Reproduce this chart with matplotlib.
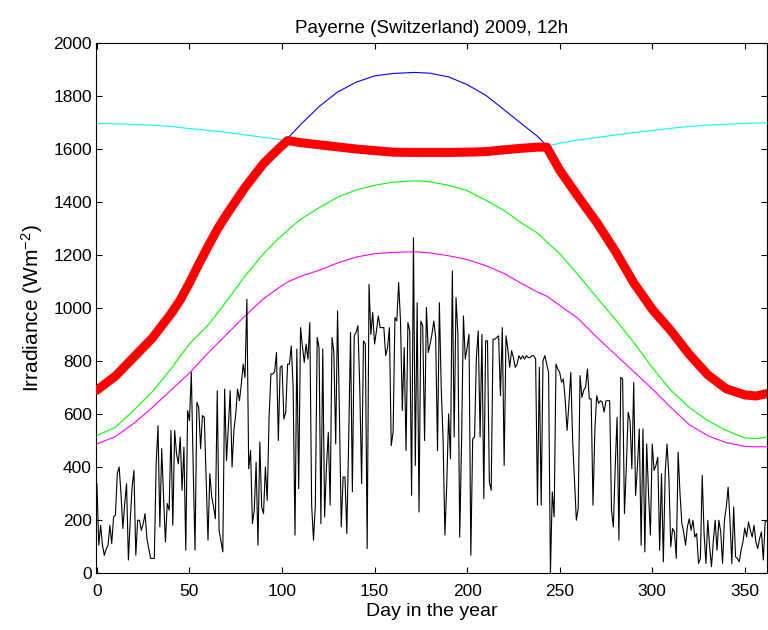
import matplotlib
matplotlib.use("Agg")
import matplotlib.pyplot as plt

plt.rcParams['font.family'] = ['Liberation Sans', 'DejaVu Sans']
plt.rcParams['mathtext.default'] = 'regular'

# ---- daily measured irradiance at 12h (black), days 0..364 ----
seg1 = [337,105,180,105,67,90,105,180,111,212,218,375,400,300,168,262,337,49,199,324,387,67,199,199,161,186,224,130,92,55,55,55,412,556,174,469,287,117,262,237,538,180,538,450,412,513,312,475,86,613,575,757,400,86,644,625,469,594,588,350,124]
seg2 = [375,287,250,205,688,161,120,80,694,425,550,688,400,538,600,694,650,713,788,738,1033,393,462,186,237,418,105,494,249,224,400,274,588,751,751,760,832,500,776,782,581,607,788,788,857,700,143,845,318,926,857,795,864,807,945,256,124,256,889,850]
seg3 = [186,845,212,400,531,256,889,832,487,989,600,174,362,362,149,500,908,306,895,908,933,700,337,876,864,92,1089,900,983,864,914,970,926,926,926,820,850,926,481,531,964,951,1096,951,613,851,462,945,914,293,1265,406,1020,230,951,933,500,1002,832,864,901,951,889,462]
seg4 = [1020,700,506,143,337,600,431,1140,513,1039,901,136,500,970,807,850,901,67,506,513,813,914,513,901,281,876,876,343,312,882,882,889,895,669,926,406,895,845,776,839,813,776,788,820,807,820,807,820,813,813,820,820,807,256,776,256,801,820,788,757,0]
seg5 = [306,212,788,770,757,720,732,650,538,640,757,500,350,199,243,745,663,690,701,770,657,657,256,538,669,640,650,644,607,650,650,650,237,174,400,588,124,738,732,224,400,607,575,393,719,293,400,544,105,544,80,487,300,143,487,387,406,437,86,375,42,380,487,362]
seg6 = [99,168,155,55,456,300,186,155,105,174,205,161,199,136,149,36,55,368,150,36,199,99,24,120,199,86,199,155,36,199,249,324,200,36,249,61,55,42,86,117,170,136,193,160,136,180,117,92,130,155,49,193,199,180,150]
measured = seg1 + seg2 + seg3 + seg4 + seg5 + seg6
measured_days = list(range(len(measured)))

# ---- smooth model curves, read at these days ----
curve_days = [0, 10, 20, 30, 40, 45, 50, 55, 60, 65, 70, 80, 90, 98, 103, 110, 120, 130, 140, 150, 160, 172, 180,
              190, 200, 210, 220, 230, 238, 243, 250, 260, 270, 280, 290, 300, 310, 320, 330, 340, 350, 356, 364]

red_vals = [690, 743, 815, 887, 978, 1030, 1095, 1165, 1232, 1296, 1352, 1455, 1545, 1600, 1632, 1624, 1616, 1608, 1600, 1594, 1588, 1587, 1587,
            1587, 1588, 1590, 1597, 1603, 1607, 1607, 1520, 1420, 1323, 1215, 1095, 995, 915, 825, 748, 695, 672, 668, 680]

blue_vals = [690, 743, 815, 887, 978, 1030, 1095, 1165, 1232, 1296, 1352, 1455, 1545, 1600, 1640, 1692, 1760, 1815, 1852, 1876, 1885, 1889, 1886,
             1872, 1843, 1803, 1748, 1692, 1648, 1612, 1520, 1420, 1323, 1215, 1095, 995, 915, 825, 748, 695, 672, 668, 680]

cyan_vals = [1696, 1695, 1693, 1690, 1685, 1681, 1677, 1674, 1670, 1667, 1663, 1653, 1644, 1637, 1633, 1620, 1612, 1604, 1597, 1591, 1586, 1585, 1585,
             1585, 1586, 1588, 1594, 1600, 1604, 1610, 1622, 1634, 1643, 1653, 1662, 1670, 1678, 1685, 1690, 1693, 1696, 1698, 1699]

green_vals = [519, 550, 615, 685, 770, 818, 865, 900, 935, 980, 1025, 1120, 1205, 1262, 1293, 1335, 1378, 1418, 1445, 1463, 1475, 1480, 1476,
              1463, 1443, 1407, 1368, 1318, 1283, 1250, 1205, 1125, 1040, 957, 870, 775, 690, 625, 575, 538, 510, 507, 515]

magenta_vals = [487, 515, 565, 625, 690, 722, 755, 792, 830, 865, 900, 970, 1035, 1075, 1098, 1120, 1142, 1170, 1192, 1205, 1210, 1212, 1208,
                1197, 1183, 1160, 1130, 1090, 1060, 1045, 1010, 960, 890, 825, 760, 695, 625, 560, 518, 492, 478, 476, 477]

x_ticks = [0, 50, 100, 150, 200, 250, 300, 350]
y_ticks = [0, 200, 400, 600, 800, 1000, 1200, 1400, 1600, 1800, 2000]

fig = plt.figure(figsize=(7.68, 6.30), dpi=100)
ax = fig.add_axes([96/768, 57/630, 671/768, 530/630])

ax.plot(curve_days, cyan_vals, color=(0, 1, 1), lw=0.8, zorder=2)
ax.plot(curve_days, blue_vals, color=(0, 0, 1), lw=0.8, zorder=2)
ax.plot(curve_days, red_vals, color=(1, 0, 0), lw=6.5, solid_capstyle='round', solid_joinstyle='round', zorder=3)
ax.plot(curve_days, green_vals, color=(0, 1, 0), lw=0.8, zorder=2)
ax.plot(curve_days, magenta_vals, color=(1, 0, 1), lw=0.8, zorder=2)
ax.plot(measured_days, measured, color='black', lw=0.8, zorder=4)

ax.set_xlim(-0.5, 362)
ax.set_ylim(0, 2000)
ax.set_xticks(x_ticks)
ax.set_yticks(y_ticks)
ax.tick_params(direction='in', top=True, right=True, length=4, width=0.8, labelsize=12.5)
ax.tick_params(axis='x', pad=8)
ax.tick_params(axis='y', pad=3)
for s in ax.spines.values():
    s.set_linewidth(0.8)

ax.set_title('Payerne (Switzerland) 2009, 12h', fontsize=13.5, pad=7)
ax.set_xlabel('Day in the year', fontsize=14, labelpad=3)
ax.set_ylabel('Irradiance (Wm$^{-2}$)', fontsize=15, labelpad=6)

fig.savefig('out.png', dpi=100)
